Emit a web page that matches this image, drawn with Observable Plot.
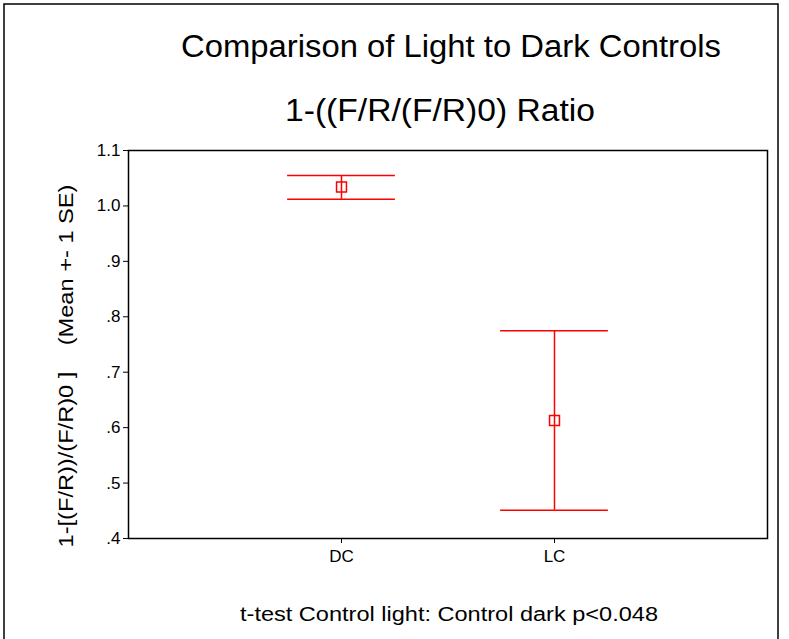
<!DOCTYPE html>
<html>
<head>
<meta charset="utf-8">
<script src="https://cdn.jsdelivr.net/npm/d3@7"></script>
<script src="https://cdn.jsdelivr.net/npm/@observablehq/plot@0.6"></script>
<style>
  html, body { margin: 0; padding: 0; background: #fff; }
  #chart svg { display: block; }
</style>
</head>
<body>
<div id="chart"></div>
<script>
const categories = ["DC", "LC"];
const means = [1.034, 0.613];
const upper = [1.055, 0.775];
const lower = [1.012, 0.451];
const yTicks = [0.4, 0.5, 0.6, 0.7, 0.8, 0.9, 1.0, 1.1];
const title1 = "Comparison of Light to Dark Controls";
const title2 = "1-((F/R/(F/R)0) Ratio";
const yLabel = "1-[(F/R))/(F/R)0 ]    (Mean +- 1 SE)";
const footer = "t-test Control light: Control dark p<0.048";

const data = categories.map((c, i) => ({cat: c, pos: i + 1, mean: means[i], hi: upper[i], lo: lower[i]}));
const capHalf = 0.253;
const red = "#ff0000";
const font = "Liberation Sans, Arial, Helvetica, sans-serif";
const narrow = "'Liberation Sans Narrow', 'Arial Narrow', 'Liberation Sans', sans-serif";

const W = 789, H = 639;
const plot = Plot.plot({
  width: W,
  height: H,
  marginLeft: 128,
  marginRight: 22,
  marginTop: 150,
  marginBottom: 101,
  style: {fontFamily: font, fontSize: "15px", background: "#fff", color: "#000"},
  x: {domain: [0, 3], label: null},
  y: {domain: [0.4, 1.1], label: null},
  marks: [
    Plot.axisX({ticks: [1, 2], tickFormat: d => categories[d - 1], tickSize: 5, tickPadding: 6, fontSize: 17, fontFamily: narrow, label: null}),
    Plot.axisY({ticks: yTicks, tickFormat: d => d >= 1 ? d.toFixed(1) : d.toFixed(1).replace(/^0/, ""), tickSize: 5, tickPadding: 3, fontSize: 17, fontFamily: narrow, label: null}),
    Plot.frame({stroke: "#000", strokeWidth: 1.5}),
    Plot.ruleX(data, {x: "pos", y1: "lo", y2: "hi", stroke: red, strokeWidth: 1.5}),
    Plot.ruleY(data, {y: "hi", x1: d => d.pos - capHalf, x2: d => d.pos + capHalf, stroke: red, strokeWidth: 1.5}),
    Plot.ruleY(data, {y: "lo", x1: d => d.pos - capHalf, x2: d => d.pos + capHalf, stroke: red, strokeWidth: 1.5}),
    Plot.dot(data, {x: "pos", y: "mean", symbol: "square", r: 5.6, stroke: red, fill: "none", strokeWidth: 1.5})
  ]
});

const svg = d3.select(plot);
svg.insert("rect", ":first-child")
  .attr("x", 4).attr("y", 4).attr("width", 774).attr("height", H + 10)
  .attr("fill", "none").attr("stroke", "#000").attr("stroke-width", 1.5);

function addText(str, x, y, size, len, rotate) {
  const t = svg.append("text")
    .attr("font-family", font)
    .attr("font-size", size)
    .attr("fill", "#000")
    .attr("text-anchor", "middle")
    .attr("textLength", len)
    .attr("lengthAdjust", "spacingAndGlyphs")
    .text(str);
  if (rotate) t.attr("transform", `translate(${x},${y}) rotate(-90)`);
  else t.attr("x", x).attr("y", y);
}
addText(title1, 451, 57, 31, 540);
addText(title2, 440, 121, 31, 310);
addText(yLabel, 73, 366, 21, 363, true);
addText(footer, 449, 621, 20, 418);

document.getElementById("chart").appendChild(plot);
</script>
</body>
</html>
